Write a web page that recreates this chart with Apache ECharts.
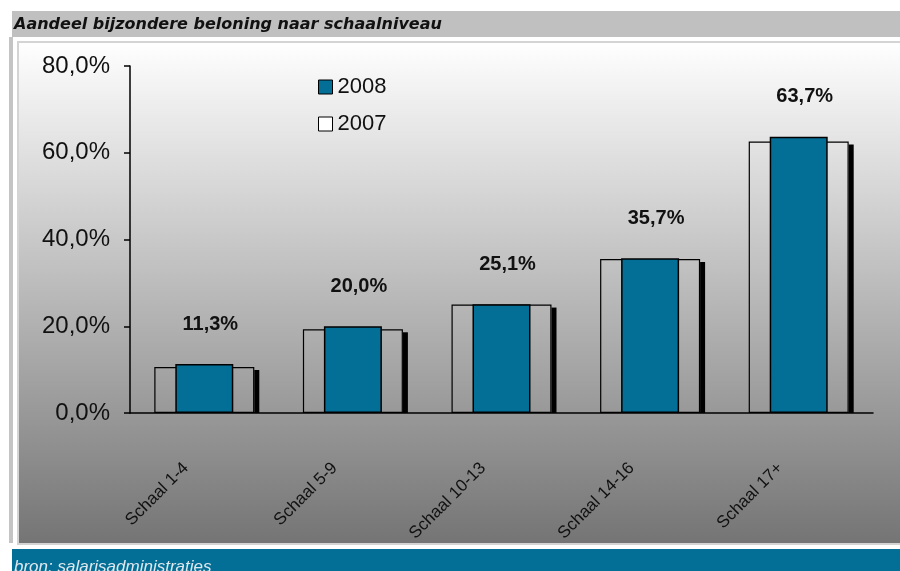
<!DOCTYPE html>
<html>
<head>
<meta charset="utf-8">
<script src="https://cdn.jsdelivr.net/npm/echarts@6/dist/echarts.min.js"></script>
<style>
  html, body { margin: 0; padding: 0; background: #fff; }
  #chart { width: 900px; height: 571px; }
</style>
</head>
<body>
<div id="chart"></div>
<script>
// categorieën en waarden
const categories = ['Schaal 1-4', 'Schaal 5-9', 'Schaal 10-13', 'Schaal 14-16', 'Schaal 17+']
const values2008 = [11.3, 20.0, 25.1, 35.7, 63.7]
const values2007 = [10.6, 19.3, 25.0, 35.5, 62.6]
const yTicks = [0, 20, 40, 60, 80]

const teal = '#046f96'
const pct = v => v.toFixed(1).replace('.', ',') + '%'

const chart = echarts.init(document.getElementById('chart'))

const option = {
  animation: false,
  backgroundColor: '#fff',
  graphic: [
    // titelbalk
    { type: 'rect', shape: { x: 12, y: 11, width: 888, height: 26 }, style: { fill: '#c0c0c0' }, z: -10 },
    // grijze strook links
    { type: 'rect', shape: { x: 9, y: 37, width: 4, height: 506 }, style: { fill: '#c4c4c4' }, z: -10 },
    // achtergrond grafiek
    {
      type: 'rect',
      shape: { x: 18, y: 42, width: 884, height: 502 },
      style: {
        fill: new echarts.graphic.LinearGradient(0, 0, 0, 1, [
          { offset: 0, color: '#ffffff' },
          { offset: 1, color: '#747474' }
        ]),
        stroke: '#d4d4d4',
        lineWidth: 2
      },
      z: -10
    },
    // bronbalk
    { type: 'rect', shape: { x: 12, y: 549, width: 888, height: 22 }, style: { fill: teal }, z: -10 },
    {
      type: 'text',
      left: 14,
      top: 559,
      style: {
        text: 'bron: salarisadministraties',
        fill: '#dfe8ee',
        font: 'italic 17px "Liberation Sans Narrow", "Liberation Sans", Arial'
      },
      z: 5
    }
  ],
  title: {
    text: 'Aandeel bijzondere beloning naar schaalniveau',
    left: 14,
    top: 17,
    padding: 0,
    textStyle: {
      fontFamily: '"DejaVu Sans", Arial',
      fontStyle: 'italic',
      fontWeight: 'bold',
      fontSize: 16,
      color: '#111'
    }
  },
  legend: {
    orient: 'vertical',
    left: 313,
    top: 71,
    itemWidth: 14,
    itemHeight: 14,
    itemGap: 15,
    icon: 'rect',
    data: [
      { name: '2008', itemStyle: { color: teal, borderColor: '#000', borderWidth: 1 } },
      { name: '2007', itemStyle: { color: '#fff', borderColor: '#000', borderWidth: 1 } }
    ],
    textStyle: { fontFamily: '"Liberation Sans", Arial', fontSize: 22, color: '#111' }
  },
  grid: { left: 130, right: 27, top: 66, bottom: 158 },
  xAxis: [
    {
      type: 'category',
      data: categories,
      axisLine: { lineStyle: { color: '#000', width: 1.5 } },
      axisTick: { length: 6, lineStyle: { color: '#000', width: 1.5 } },
      axisLabel: {
        rotate: 45,
        margin: 34,
        padding: [0, 26, 0, 0],
        fontFamily: '"Liberation Sans", Arial',
        fontSize: 17,
        color: '#111',
        interval: 0
      }
    },
    { type: 'category', data: categories, show: false }
  ],
  yAxis: {
    type: 'value',
    min: yTicks[0],
    max: yTicks[yTicks.length - 1],
    interval: 20,
    axisLine: { show: true, lineStyle: { color: '#000', width: 1.5 } },
    axisTick: { show: true, length: 6, lineStyle: { color: '#000', width: 1.5 } },
    splitLine: { show: false },
    axisLabel: {
      margin: 20,
      fontFamily: '"Liberation Sans", Arial',
      fontSize: 24,
      color: '#111',
      formatter: v => pct(v)
    }
  },
  series: [
    {
      // schaduw rechts van de 2007 balk
      type: 'custom',
      xAxisIndex: 0,
      silent: true,
      z: 1,
      data: values2007.map((v, i) => [i, v]),
      renderItem: function (params, api) {
        const top = api.coord([api.value(0), api.value(1)])
        const base = api.coord([api.value(0), 0])
        return {
          type: 'rect',
          shape: { x: top[0] + 50, y: top[1] + 3, width: 5, height: base[1] - top[1] - 3 },
          style: { fill: '#000' }
        }
      }
    },
    {
      name: '2007',
      type: 'bar',
      xAxisIndex: 0,
      barWidth: 100,
      z: 2,
      data: values2007,
      itemStyle: { color: 'rgba(0,0,0,0)', borderColor: '#000', borderWidth: 1.2 }
    },
    {
      name: '2008',
      type: 'bar',
      xAxisIndex: 1,
      barWidth: 58,
      z: 3,
      data: values2008,
      itemStyle: { color: teal, borderColor: '#000', borderWidth: 1.5 },
      label: {
        show: true,
        position: 'top',
        distance: 30,
        offset: [6, 0],
        fontFamily: '"Liberation Sans", Arial',
        fontWeight: 'bold',
        fontSize: 20,
        color: '#111',
        formatter: p => pct(p.value)
      }
    }
  ]
}

chart.setOption(option)
</script>
</body>
</html>
